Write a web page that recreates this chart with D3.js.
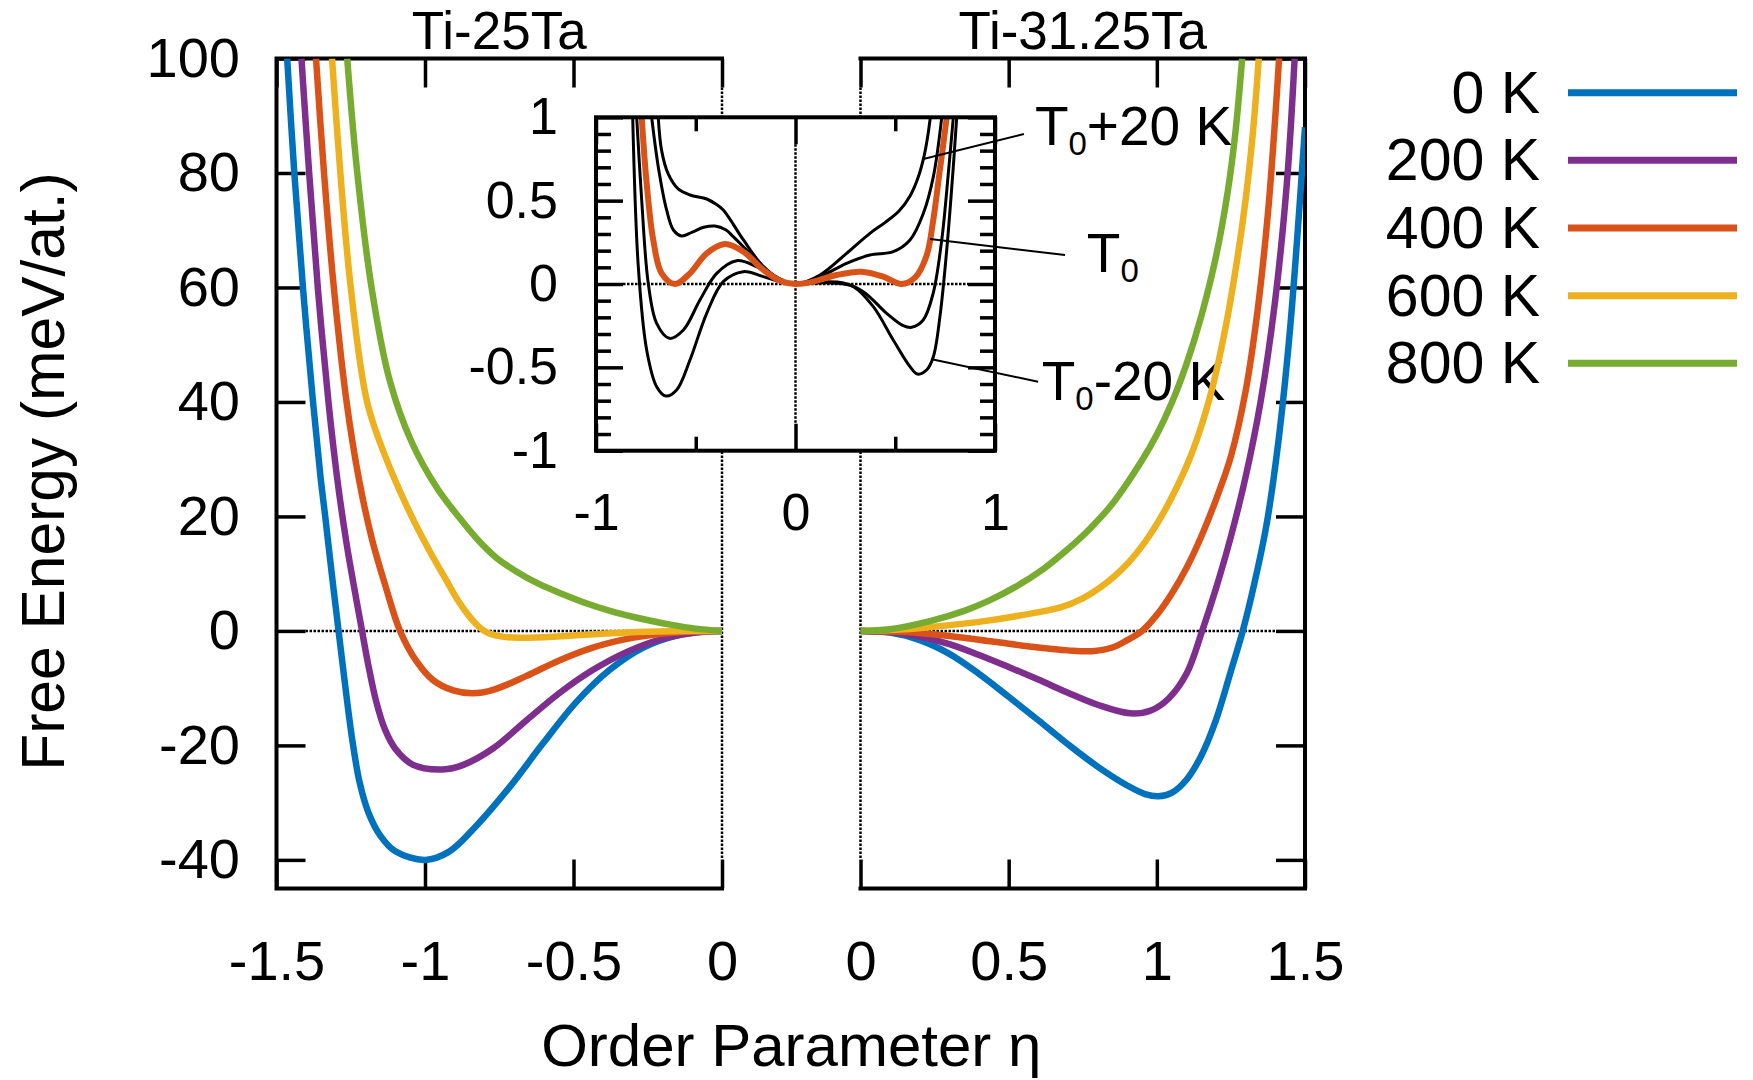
<!DOCTYPE html>
<html>
<head>
<meta charset="utf-8">
<title>Free Energy vs Order Parameter</title>
<style>
  html, body { margin: 0; padding: 0; background: #fff; }
  svg { display: block; font-family: "Liberation Sans", Arial, Helvetica, sans-serif; }
  .frame { stroke: #000; stroke-width: 4; fill: none; stroke-linecap: square; }
  .zero { stroke: #000; stroke-width: 2.5; stroke-dasharray: 2.5 1.5; fill: none; }
  .curve { fill: none; stroke-width: 6.5; }
  .icurve { fill: none; stroke: #000; stroke-width: 3; }
</style>
</head>
<body>
<svg width="1753" height="1080"></svg>
<script src="https://cdn.jsdelivr.net/npm/d3@7"></script>
<script>
// ---- data: [eta, F (meV/at.)] ----
const panelTitles = ["Ti-25Ta", "Ti-31.25Ta"];
const tempLabels = ["0 K", "200 K", "400 K", "600 K", "800 K"];
const tempColors = ["#0072bd", "#7e2f8e", "#d95319", "#edb120", "#77ac30"];

const mainYTicks = [100, 80, 60, 40, 20, 0, -20, -40];
const leftXTicks = [-1.5, -1, -0.5, 0];
const rightXTicks = [0, 0.5, 1, 1.5];
const insetMajorY = [-1, -0.5, 0, 0.5, 1];
const insetMajorX = [-1, 0, 1];
const insetMinorX = [-0.5, 0.5];

// Ti-25Ta (left panel)
const ti25_0K = [[-1.464, 100], [-1.440, 80], [-1.411, 60], [-1.377, 40], [-1.352, 27], [-1.336, 20], [-1.314, 10], [-1.291, 0], [-1.270, -9], [-1.245, -19], [-1.220, -26.5], [-1.190, -31.8], [-1.150, -35.8], [-1.100, -38.5], [-1.000, -40], [-0.920, -38.6], [-0.830, -34.2], [-0.714, -27.2], [-0.602, -19.6], [-0.490, -12.4], [-0.378, -6.8], [-0.265, -2.9], [-0.153, -0.8], [-0.060, -0.1], [0, 0]];
const ti25_200K = [[-1.416, 100], [-1.390, 80], [-1.361, 60], [-1.325, 40], [-1.295, 26.4], [-1.266, 15.9], [-1.243, 8.9], [-1.212, 0], [-1.190, -6.2], [-1.165, -12.2], [-1.135, -17.2], [-1.100, -20.6], [-1.040, -23.4], [-0.940, -24.2], [-0.871, -23.4], [-0.770, -20.5], [-0.658, -15.6], [-0.546, -10.8], [-0.434, -6.8], [-0.322, -3.7], [-0.209, -1.5], [-0.100, -0.35], [0, 0]];
const ti25_400K = [[-1.367, 100], [-1.340, 80], [-1.307, 60], [-1.264, 40], [-1.222, 26.4], [-1.178, 15.9], [-1.134, 8], [-1.084, 0], [-1.030, -5.2], [-0.973, -8.6], [-0.905, -10.4], [-0.840, -10.9], [-0.770, -10.3], [-0.660, -7.9], [-0.550, -5.2], [-0.440, -3.0], [-0.320, -1.4], [-0.200, -0.45], [-0.100, -0.1], [0, 0]];
const ti25_600K = [[-1.313, 100], [-1.285, 80], [-1.250, 60], [-1.195, 40], [-1.130, 30], [-1.045, 20], [-0.985, 14], [-0.930, 9], [-0.885, 5], [-0.850, 2.5], [-0.820, 0.8], [-0.800, 0], [-0.775, -0.6], [-0.740, -1.0], [-0.680, -1.2], [-0.620, -1.15], [-0.540, -0.95], [-0.460, -0.65], [-0.320, -0.28], [-0.170, -0.07], [0, 0]];
const ti25_800K = [[-1.262, 100], [-1.228, 80], [-1.180, 60], [-1.120, 44], [-1.045, 33], [-0.960, 25], [-0.880, 19.5], [-0.820, 15.8], [-0.760, 12.8], [-0.690, 10.3], [-0.620, 8.3], [-0.540, 6.5], [-0.450, 4.7], [-0.360, 3.25], [-0.260, 2.0], [-0.174, 1.1], [-0.090, 0.4], [0, 0]];

// Ti-31.25Ta (right panel)
const ti31_0K = [[0, 0], [0.1, -0.3], [0.2, -1.6], [0.3, -4.0], [0.4, -7.5], [0.5, -11.5], [0.6, -15.6], [0.7, -19.8], [0.8, -23.7], [0.9, -27.0], [0.96, -28.5], [1.005, -28.9], [1.05, -28.3], [1.1, -26.0], [1.15, -21.8], [1.2, -15.5], [1.25, -7.0], [1.29, 0], [1.33, 8.5], [1.37, 18.5], [1.41, 33], [1.45, 53], [1.5, 88]];
const ti31_200K = [[0, 0], [0.1, -0.2], [0.2, -1.0], [0.3, -2.3], [0.4, -4.2], [0.5, -6.3], [0.6, -8.5], [0.7, -10.8], [0.8, -12.9], [0.91, -14.4], [0.98, -13.9], [1.04, -11.8], [1.1, -7.5], [1.153, 0], [1.2, 7.5], [1.25, 16.5], [1.3, 27], [1.35, 40], [1.4, 58], [1.44, 79], [1.465, 100]];
const ti31_400K = [[0, 0], [0.15, -0.2], [0.3, -0.9], [0.45, -1.9], [0.6, -2.9], [0.7, -3.4], [0.78, -3.55], [0.85, -2.9], [0.9, -1.6], [0.95, 0], [1.0, 2.8], [1.05, 6.5], [1.1, 11], [1.15, 16.5], [1.2, 23], [1.25, 30.5], [1.3, 42], [1.34, 56], [1.375, 73], [1.4, 90], [1.415, 102]];
const ti31_600K = [[0, 0], [0.1, 0.15], [0.241, 0.7], [0.43, 1.8], [0.55, 2.8], [0.675, 4.1], [0.75, 5.7], [0.807, 7.5], [0.9, 11.7], [0.977, 16.8], [1.05, 23.3], [1.12, 31.3], [1.18, 41], [1.23, 52.5], [1.27, 64.5], [1.3, 75.5], [1.325, 87.5], [1.344, 100]];
const ti31_800K = [[0, 0], [0.1, 0.3], [0.241, 1.8], [0.35, 3.5], [0.43, 5.2], [0.52, 7.6], [0.619, 10.9], [0.7, 14.3], [0.769, 17.6], [0.85, 22.2], [0.95, 29.8], [1.0, 34.3], [1.05, 39.8], [1.1, 46.6], [1.15, 55], [1.2, 65.5], [1.24, 77], [1.265, 87], [1.288, 100]];

// inset, around T0 (black curves, T0 in orange)
const insetTp20 = [[-0.688, 1.0], [-0.671, 0.80], [-0.638, 0.66], [-0.588, 0.57], [-0.529, 0.534], [-0.445, 0.51], [-0.40, 0.48], [-0.362, 0.444], [-0.261, 0.264], [-0.161, 0.104], [-0.061, 0.014], [0, 0], [0.123, 0.054], [0.256, 0.184], [0.373, 0.304], [0.45, 0.37], [0.52, 0.44], [0.575, 0.53], [0.615, 0.64], [0.645, 0.77], [0.662, 0.88], [0.676, 1.0]];
const insetTp10 = [[-0.721, 1.0], [-0.688, 0.704], [-0.646, 0.444], [-0.612, 0.324], [-0.571, 0.288], [-0.52, 0.31], [-0.46, 0.34], [-0.404, 0.348], [-0.35, 0.325], [-0.312, 0.284], [-0.211, 0.164], [-0.111, 0.054], [0, 0], [0.123, 0.044], [0.256, 0.124], [0.373, 0.174], [0.49, 0.194], [0.574, 0.264], [0.641, 0.424], [0.691, 0.644], [0.733, 1.0]];
const insetT0 = [[-0.771, 1.0], [-0.746, 0.604], [-0.713, 0.264], [-0.671, 0.064], [-0.604, 0], [-0.529, 0.064], [-0.445, 0.184], [-0.354, 0.24], [-0.261, 0.194], [-0.161, 0.084], [-0.078, 0.02], [0, 0], [0.089, 0.014], [0.206, 0.054], [0.332, 0.074], [0.44, 0.044], [0.532, 0], [0.6, 0.04], [0.657, 0.17], [0.69, 0.38], [0.72, 0.65], [0.74, 0.83], [0.758, 1.0]];
const insetTm10 = [[-0.796, 1.0], [-0.771, 0.504], [-0.738, 0.004], [-0.696, -0.236], [-0.632, -0.326], [-0.562, -0.276], [-0.479, -0.096], [-0.395, 0.064], [-0.295, 0.14], [-0.195, 0.104], [-0.095, 0.034], [0, 0], [0.123, 0.012], [0.24, 0.006], [0.34, -0.046], [0.457, -0.176], [0.54, -0.25], [0.582, -0.26], [0.64, -0.216], [0.69, -0.056], [0.733, 0.264], [0.766, 0.664], [0.791, 1.0]];
const insetTm20 = [[-0.816, 1.0], [-0.788, 0.104], [-0.746, -0.396], [-0.696, -0.616], [-0.649, -0.672], [-0.596, -0.636], [-0.529, -0.456], [-0.445, -0.176], [-0.362, 0.014], [-0.262, 0.074], [-0.161, 0.044], [-0.078, 0.014], [0, 0], [0.089, 0.006], [0.19, 0.006], [0.29, -0.016], [0.39, -0.136], [0.49, -0.336], [0.574, -0.496], [0.611, -0.54], [0.657, -0.516], [0.691, -0.436], [0.724, -0.196], [0.758, 0.204], [0.791, 0.704], [0.808, 1.0]];

// annotation labels, in inset coordinates: tip on curve, line end, text start
const annoRest = ["+20 K", "", "-20 K"];
const annoTip = [[0.641, 0.75], [0.674, 0.27], [0.683, -0.452]];
const annoEnd = [[1.145, 0.90], [1.351, 0.174], [1.216, -0.586]];
const annoAt = [[1.20, 0.834], [1.46, 0.074], [1.234, -0.696]];

// ---- drawing ----
const svg = d3.select("svg");

const xL = d3.scaleLinear().domain([-1.5, 0]).range([276.5, 722]);
const xR = d3.scaleLinear().domain([0, 1.5]).range([860.5, 1305]);
const y = d3.scaleLinear().domain([-45, 100]).range([888.5, 58.5]);
const xIn = d3.scaleLinear().domain([-1, 1]).range([596, 995]);
const yIn = d3.scaleLinear().domain([-1, 1]).range([450.7, 117.3]);

const TICK = 29;
const fmt = d => String(d);

function styleAxis(g, size) {
  g.attr("font-family", null).attr("font-size", null);
  g.select(".domain").remove();
  g.selectAll(".tick line").attr("stroke", "#000").attr("stroke-width", 3.5);
  g.selectAll(".tick text").attr("fill", "#000").attr("font-size", size);
}

const defs = svg.append("defs");
function addClip(id, xs, ys) {
  const [x0, x1] = xs.range();
  const [y0, y1] = ys.range();
  defs.append("clipPath").attr("id", id).append("rect")
    .attr("x", Math.min(x0, x1)).attr("y", Math.min(y0, y1))
    .attr("width", Math.abs(x1 - x0)).attr("height", Math.abs(y1 - y0));
}
addClip("clipL", xL, y);
addClip("clipR", xR, y);
addClip("clipIn", xIn, yIn);

const main = svg.append("g");

// left panel axes
main.append("g").attr("transform", `translate(${xL(-1.5)},0)`)
  .call(d3.axisLeft(y).tickValues(mainYTicks).tickSizeInner(-TICK).tickSizeOuter(0).tickPadding(36.5).tickFormat(fmt))
  .call(styleAxis, 56);
main.append("g").attr("transform", `translate(0,${y(-45)})`)
  .call(d3.axisBottom(xL).tickValues(leftXTicks).tickSizeInner(-TICK).tickSizeOuter(0).tickPadding(52).tickFormat(fmt))
  .call(styleAxis, 56);
main.append("g").attr("transform", `translate(0,${y(100)})`)
  .call(d3.axisTop(xL).tickValues(leftXTicks).tickSizeInner(-TICK).tickSizeOuter(0).tickFormat(""))
  .call(styleAxis, 56);

// right panel axes
main.append("g").attr("transform", `translate(${xR(1.5)},0)`)
  .call(d3.axisRight(y).tickValues(mainYTicks).tickSizeInner(-TICK).tickSizeOuter(0).tickFormat(""))
  .call(styleAxis, 56);
main.append("g").attr("transform", `translate(0,${y(-45)})`)
  .call(d3.axisBottom(xR).tickValues(rightXTicks).tickSizeInner(-TICK).tickSizeOuter(0).tickPadding(52).tickFormat(fmt))
  .call(styleAxis, 56);
main.append("g").attr("transform", `translate(0,${y(100)})`)
  .call(d3.axisTop(xR).tickValues(rightXTicks).tickSizeInner(-TICK).tickSizeOuter(0).tickFormat(""))
  .call(styleAxis, 56);

// frames (open on the eta = 0 side)
main.append("path").attr("class", "frame")
  .attr("d", `M${xL(0)},${y(100)}H${xL(-1.5)}V${y(-45)}H${xL(0)}`);
main.append("path").attr("class", "frame")
  .attr("d", `M${xR(0)},${y(100)}H${xR(1.5)}V${y(-45)}H${xR(0)}`);

// dotted zero lines
main.append("line").attr("class", "zero")
  .attr("x1", xL(-1.5) + TICK).attr("x2", xL(0)).attr("y1", y(0)).attr("y2", y(0));
main.append("line").attr("class", "zero")
  .attr("x1", xL(0)).attr("x2", xL(0)).attr("y1", y(100) + TICK).attr("y2", y(-45) - TICK);
main.append("line").attr("class", "zero")
  .attr("x1", xR(0)).attr("x2", xR(1.5) - TICK).attr("y1", y(0)).attr("y2", y(0));
main.append("line").attr("class", "zero")
  .attr("x1", xR(0)).attr("x2", xR(0)).attr("y1", y(100) + TICK).attr("y2", y(-45) - TICK);

// titles and axis labels
svg.append("text").attr("x", (xL(-1.5) + xL(0)) / 2).attr("y", 49)
  .attr("text-anchor", "middle").attr("font-size", 53).text(panelTitles[0]);
svg.append("text").attr("x", (xR(0) + xR(1.5)) / 2).attr("y", 49)
  .attr("text-anchor", "middle").attr("font-size", 53).text(panelTitles[1]);
svg.append("text").attr("x", (xL(0) + xR(0)) / 2).attr("y", 1066)
  .attr("text-anchor", "middle").attr("font-size", 60).text("Order Parameter η");
svg.append("text").attr("transform", `translate(64,${(y(100) + y(-45)) / 2 - 2}) rotate(-90)`)
  .attr("text-anchor", "middle").attr("font-size", 60.5).text("Free Energy (meV/at.)");

// ---- inset ----
const inset = svg.append("g");
inset.append("rect").attr("x", xIn(-1)).attr("y", yIn(1))
  .attr("width", xIn(1) - xIn(-1)).attr("height", yIn(-1) - yIn(1)).attr("fill", "#fff");

const insetMinorY = d3.range(-9, 10).filter(i => i % 5 !== 0).map(i => i / 10);

inset.append("g").attr("transform", `translate(${xIn(-1)},0)`)
  .call(d3.axisLeft(yIn).tickValues(insetMajorY).tickSizeInner(-27).tickSizeOuter(0).tickPadding(38).tickFormat(fmt))
  .call(styleAxis, 52);
inset.append("g").attr("transform", `translate(${xIn(-1)},0)`)
  .call(d3.axisLeft(yIn).tickValues(insetMinorY).tickSizeInner(-15).tickSizeOuter(0).tickFormat(""))
  .call(styleAxis, 52);
inset.append("g").attr("transform", `translate(${xIn(1)},0)`)
  .call(d3.axisRight(yIn).tickValues(insetMajorY).tickSizeInner(-27).tickSizeOuter(0).tickFormat(""))
  .call(styleAxis, 52);
inset.append("g").attr("transform", `translate(${xIn(1)},0)`)
  .call(d3.axisRight(yIn).tickValues(insetMinorY).tickSizeInner(-15).tickSizeOuter(0).tickFormat(""))
  .call(styleAxis, 52);
inset.append("g").attr("transform", `translate(0,${yIn(-1)})`)
  .call(d3.axisBottom(xIn).tickValues(insetMajorX).tickSizeInner(-27).tickSizeOuter(0).tickPadding(42).tickFormat(fmt))
  .call(styleAxis, 52);
inset.append("g").attr("transform", `translate(0,${yIn(-1)})`)
  .call(d3.axisBottom(xIn).tickValues(insetMinorX).tickSizeInner(-14).tickSizeOuter(0).tickFormat(""))
  .call(styleAxis, 52);
inset.append("g").attr("transform", `translate(0,${yIn(1)})`)
  .call(d3.axisTop(xIn).tickValues(insetMajorX).tickSizeInner(-27).tickSizeOuter(0).tickFormat(""))
  .call(styleAxis, 52);
inset.append("g").attr("transform", `translate(0,${yIn(1)})`)
  .call(d3.axisTop(xIn).tickValues(insetMinorX).tickSizeInner(-14).tickSizeOuter(0).tickFormat(""))
  .call(styleAxis, 52);

inset.append("line").attr("class", "zero")
  .attr("x1", xIn(-1) + 27).attr("x2", xIn(1) - 27).attr("y1", yIn(0)).attr("y2", yIn(0));
inset.append("line").attr("class", "zero")
  .attr("x1", xIn(0)).attr("x2", xIn(0)).attr("y1", yIn(1) + 27).attr("y2", yIn(-1) - 27);

const smooth = d3.curveCatmullRom.alpha(0.5);
const lineIn = d3.line().x(d => xIn(d[0])).y(d => yIn(d[1])).curve(smooth);
const insetBlack = [insetTp20, insetTp10, insetTm10, insetTm20];
inset.append("g").attr("clip-path", "url(#clipIn)")
  .selectAll("path").data(insetBlack).join("path")
  .attr("class", "icurve").attr("d", lineIn);
inset.append("g").attr("clip-path", "url(#clipIn)")
  .append("path").datum(insetT0)
  .attr("fill", "none").attr("stroke", tempColors[2]).attr("stroke-width", 6)
  .attr("d", lineIn);

inset.append("rect").attr("class", "frame").attr("x", xIn(-1)).attr("y", yIn(1))
  .attr("width", xIn(1) - xIn(-1)).attr("height", yIn(-1) - yIn(1));

// annotations
const anno = svg.append("g");
annoRest.forEach((rest, i) => {
  anno.append("line")
    .attr("x1", xIn(annoTip[i][0])).attr("y1", yIn(annoTip[i][1]))
    .attr("x2", xIn(annoEnd[i][0])).attr("y2", yIn(annoEnd[i][1]))
    .attr("stroke", "#000").attr("stroke-width", 2);
  const t = anno.append("text").attr("x", xIn(annoAt[i][0])).attr("y", yIn(annoAt[i][1]))
    .attr("font-size", 55);
  t.append("tspan").text("T");
  t.append("tspan").attr("font-size", 33).attr("dy", 10).text("0");
  if (rest) t.append("tspan").attr("dy", -10).text(rest);
});

// ---- main curves ----
const lineL = d3.line().x(d => xL(d[0])).y(d => y(d[1])).curve(smooth);
const lineR = d3.line().x(d => xR(d[0])).y(d => y(d[1])).curve(smooth);
const ti25Curves = [ti25_0K, ti25_200K, ti25_400K, ti25_600K, ti25_800K];
const ti31Curves = [ti31_0K, ti31_200K, ti31_400K, ti31_600K, ti31_800K];

svg.append("g").attr("clip-path", "url(#clipL)")
  .selectAll("path").data(ti25Curves).join("path")
  .attr("class", "curve").attr("stroke", (d, i) => tempColors[i]).attr("d", lineL);
svg.append("g").attr("clip-path", "url(#clipR)")
  .selectAll("path").data(ti31Curves).join("path")
  .attr("class", "curve").attr("stroke", (d, i) => tempColors[i]).attr("d", lineR);

// ---- legend ----
const legY = d3.scaleLinear().domain([0, tempLabels.length - 1]).range([92.7, 363.3]);
const leg = svg.append("g");
tempLabels.forEach((lab, i) => {
  leg.append("text").attr("x", 1540).attr("y", legY(i) + 20)
    .attr("text-anchor", "end").attr("font-size", 59).text(lab);
  leg.append("line").attr("x1", 1568).attr("x2", 1737)
    .attr("y1", legY(i)).attr("y2", legY(i))
    .attr("stroke", tempColors[i]).attr("stroke-width", 7);
});
</script>
</body>
</html>
